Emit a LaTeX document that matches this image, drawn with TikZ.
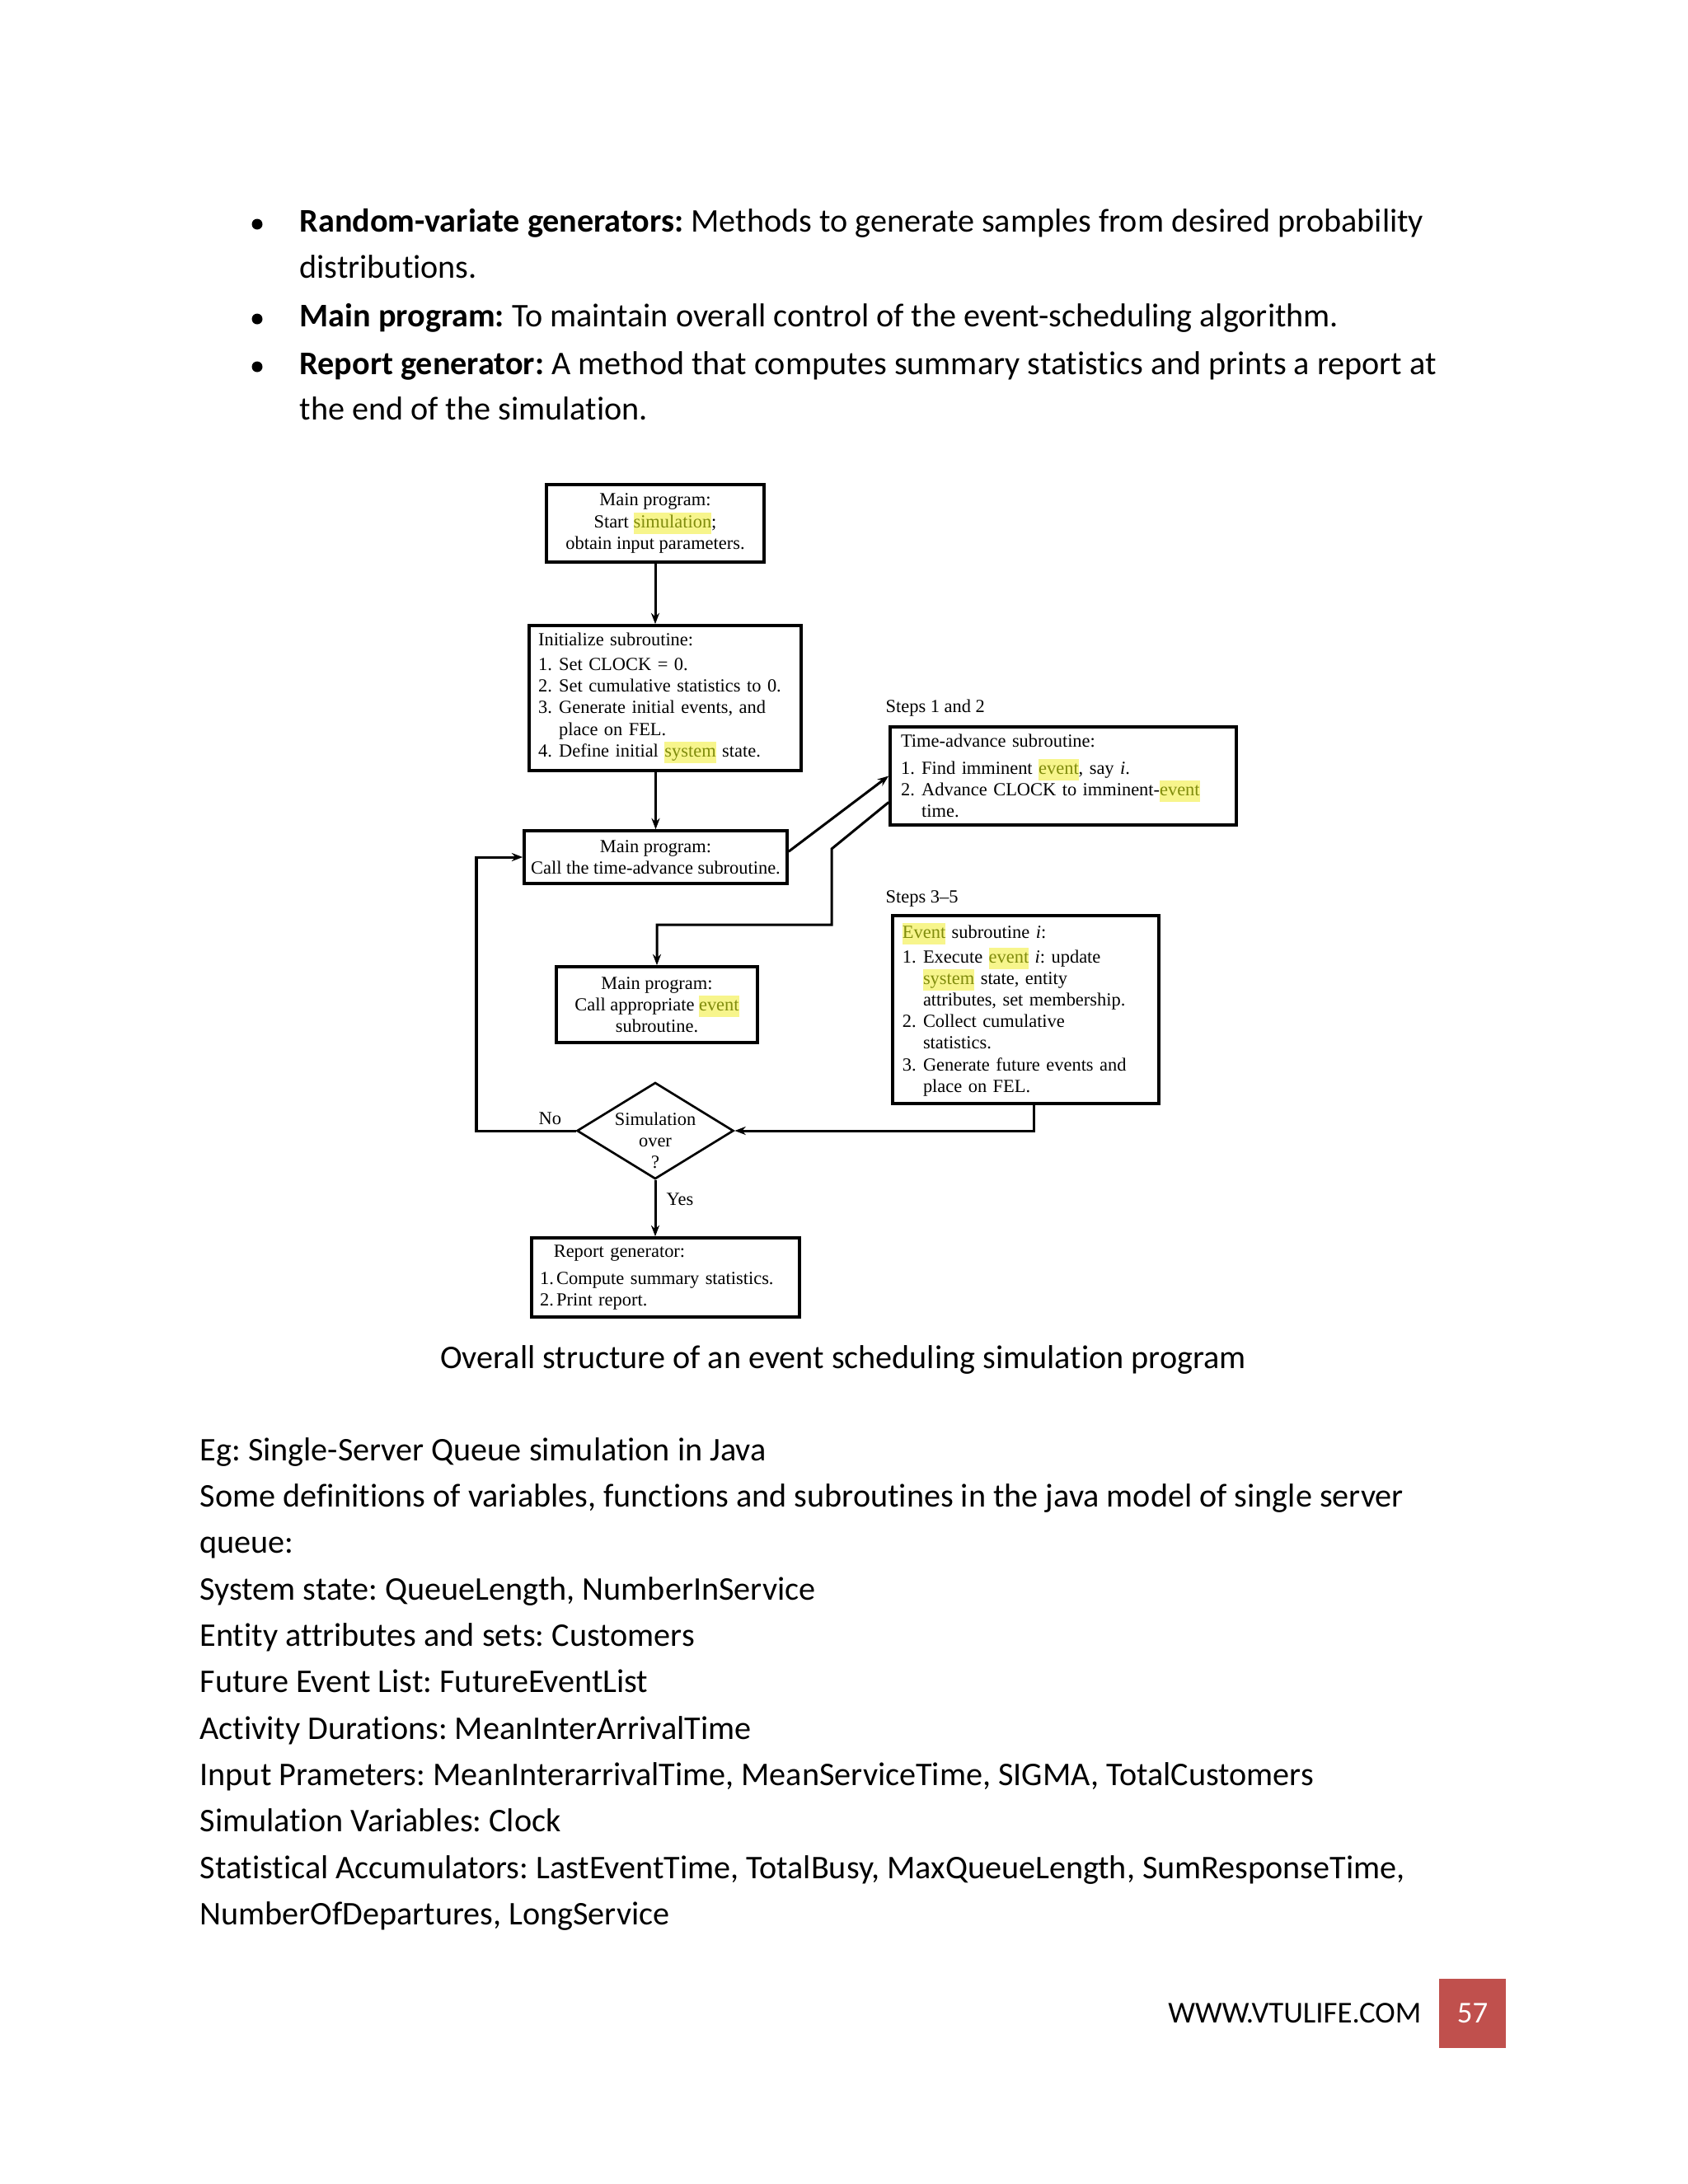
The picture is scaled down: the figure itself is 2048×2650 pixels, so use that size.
\documentclass[tikz,border=0pt]{standalone}
\usepackage{fontspec}
\setmainfont{Carlito}[Ligatures=NoCommon]
\newfontfamily\diagfont{Liberation Serif}
\usetikzlibrary{shapes.geometric,arrows.meta,calc}
\definecolor{hly}{rgb}{0.97,0.96,0.55}
\definecolor{hlt}{rgb}{0.50,0.55,0.05}
\definecolor{pagered}{RGB}{192,80,77}
\newcommand\hlw[1]{{\setlength{\fboxsep}{0pt}\colorbox{hly}{\color{hlt}\strut #1}}}
\newcommand\itm[1]{\makebox[7.5pt][l]{#1}}
\newcommand\cnt{\hspace*{7.5pt}}
\frenchspacing
\begin{document}
\begin{tikzpicture}[x=0.29885pt,y=-0.29885pt,
  dfont/.style={font=\diagfont\fontsize{6.7}{7.8}\selectfont},
  box/.style={draw, line width=1.1pt, dfont, inner sep=0pt},
  cbox/.style={box, align=center},
  lbox/.style={box, align=left},
  lnk/.style={line width=0.9pt},
  arr/.style={line width=0.9pt, -{Stealth[length=4pt,width=3pt]}},
  body/.style={anchor=base west, inner sep=0pt, font=\fontsize{12}{14}\selectfont},
  lab/.style={anchor=base west, inner sep=0pt, dfont}]
\fill[white] (0,0) rectangle (2048,2650);
\useasboundingbox (0,0) rectangle (2048,2650);

% bullets and top text
\fill (312,272) circle (6.5);
\fill (312,387) circle (6.5);
\fill (312,445) circle (6.5);
\node[body] (t1) at (363,281) {\textbf{Random-variate generators:} Methods to generate samples from desired probability};
\node[body] (t2) at (363,337) {distributions.};
\node[body] (t3) at (363,396) {\textbf{Main program:} To maintain overall control of the event-scheduling algorithm.};
\node[body] (t4) at (363,454) {\textbf{Report generator:} A method that computes summary statistics and prints a report at};
\node[body] (t5) at (363,509) {the end of the simulation.};

% diagram boxes
\node[cbox, minimum width=78.9pt, minimum height=28.1pt] (b1) at (795,635)
  {Main program:\\Start \hlw{simulation};\\obtain input parameters.};
\node[lbox, text width=92.0pt, inner xsep=3.3pt, minimum width=98.6pt, minimum height=52.6pt] (b2) at (807,847)
  {Initialize subroutine:\\[1.2pt]
   \itm{1.}Set CLOCK = 0.\\
   \itm{2.}Set cumulative statistics to 0.\\
   \itm{3.}Generate initial events, and\\
   \cnt place on FEL.\\
   \itm{4.}Define initial \hlw{system} state.};
\node[lbox, text width=117.7pt, inner xsep=3.9pt, minimum width=125.5pt, minimum height=35.6pt] (b3) at (1290,941.5)
  {Time-advance subroutine:\\[1.8pt]
   \itm{1.}Find imminent \hlw{event}, say \textit{i}.\\
   \itm{2.}Advance CLOCK to imminent-\hlw{event}\\
   \cnt time.};
\node[cbox, minimum width=95.3pt, minimum height=19.1pt] (b4) at (795.5,1040)
  {Main program:\\Call the time-advance subroutine.};
\node[cbox, minimum width=72.9pt, minimum height=27.5pt] (b5) at (797,1219)
  {Main program:\\Call appropriate \hlw{event}\\subroutine.};
\node[lbox, text width=89.4pt, inner xsep=3.6pt, minimum width=96.5pt, minimum height=68.1pt] (b6) at (1244.5,1225)
  {\hlw{Event} subroutine \textit{i}:\\[1.2pt]
   \itm{1.}Execute \hlw{event} \textit{i}: update\\
   \cnt\hlw{system} state, entity\\
   \cnt attributes, set membership.\\
   \itm{2.}Collect cumulative\\
   \cnt statistics.\\
   \itm{3.}Generate future events and\\
   \cnt place on FEL.};
\node[diamond, draw, line width=0.8pt, minimum width=56.8pt, minimum height=35pt, inner sep=0pt] (dia) at (795,1372) {};
\node[dfont, align=center, inner sep=0pt] (diat) at (795,1384) {Simulation\\over\\?};
\node[lbox, text width=91.1pt, inner xsep=3.0pt, minimum width=97.1pt, minimum height=28.7pt] (b7) at (807.5,1550)
  {\hspace*{5pt}Report generator:\\[2pt]
   \makebox[6pt][l]{1.}Compute summary statistics.\\
   \makebox[6pt][l]{2.}Print report.};

% labels
\node[lab] (s12) at (1074,864) {Steps 1 and 2};
\node[lab] (s35) at (1074,1095) {Steps 3–5};
\node[lab] (no) at (653,1364) {No};
\node[lab] (yes) at (808,1462) {Yes};

% connector helper coordinates
\coordinate (c1) at (1009,1030);
\coordinate (c2) at (1009,1122);
\coordinate (c4) at (578,1372);

% connectors
\draw[arr] (b1.south) -- (b1.south |- b2.north);
\draw[arr] (b4.north |- b2.south) -- (b4.north);
\draw[arr] ($(b4.north east)!0.4!(b4.south east)$) -- (b3.west);
\draw[arr] ($(b3.north west)!0.76!(b3.south west)$) -- (c1) -- (c2) -| (b5.north);
\draw[arr] ([xshift=3pt]b6.south) |- (dia.east);
\draw[arr] (dia.west) -- (c4) |- (b4.west);
\draw[arr] (dia.south) -- (dia.south |- b7.north);

% caption and body
\node[anchor=base, inner sep=0pt, font=\fontsize{12}{14}\selectfont] (cap) at (1023,1660) {Overall structure of an event scheduling simulation program};
\node[body] (l1) at (242,1772) {Eg: Single-Server Queue simulation in Java};
\node[body] (l2) at (242,1828) {Some definitions of variables, functions and subroutines in the java model of single server};
\node[body] (l3) at (242,1884) {queue:};
\node[body] (l4) at (242,1941) {System state: QueueLength, NumberInService};
\node[body] (l5) at (242,1997) {Entity attributes and sets: Customers};
\node[body] (l6) at (242,2053) {Future Event List: FutureEventList};
\node[body] (l7) at (242,2110) {Activity Durations: MeanInterArrivalTime};
\node[body] (l8) at (242,2166) {Input Prameters: MeanInterarrivalTime, MeanServiceTime, SIGMA, TotalCustomers};
\node[body] (l9) at (242,2222) {Simulation Variables: Clock};
\node[body] (l10) at (242,2279) {Statistical Accumulators: LastEventTime, TotalBusy, MaxQueueLength, SumResponseTime,};
\node[body] (l11) at (242,2335) {NumberOfDepartures, LongService};

% footer
\node[anchor=base east, inner sep=0pt, font=\fontsize{11}{13}\selectfont] (web) at (1725,2454) {WWW.VTULIFE.COM};
\node[fill=pagered, text=white, minimum width=24.2pt, minimum height=25.1pt, inner sep=0pt, font=\fontsize{11}{13}\selectfont] (pg) at (1786.5,2443) {57};
\end{tikzpicture}
\end{document}
